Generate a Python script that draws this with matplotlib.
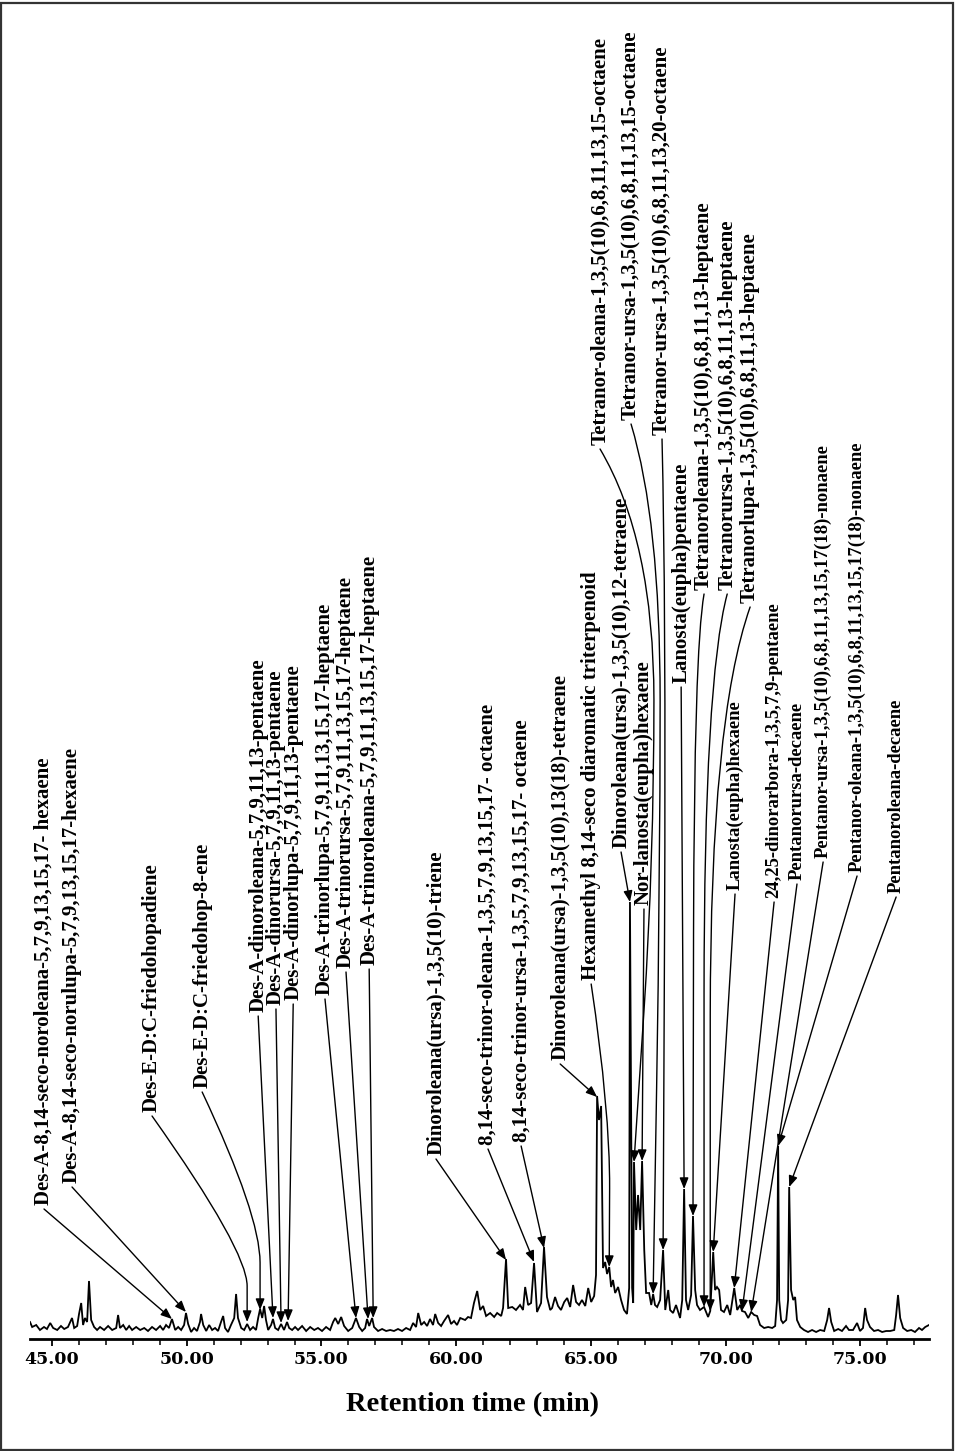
import matplotlib
matplotlib.use('Agg')
import matplotlib.pyplot as plt
import matplotlib.patches as mpatches
from matplotlib.path import Path
from matplotlib.ticker import MultipleLocator, FormatStrFormatter

# ── chromatogram trace (retention time in min, abundance in a.u.) ────────────
rt_min = [
    44.18, 44.26, 44.41, 44.55, 44.70, 44.81, 44.93, 45.04, 45.19, 45.33, 45.45, 45.59,
    45.74, 45.82, 45.93, 46.00, 46.08, 46.15, 46.22, 46.30, 46.37, 46.45, 46.56, 46.67,
    46.78, 46.93, 47.08, 47.23, 47.38, 47.45, 47.52, 47.64, 47.75, 47.86, 47.97, 48.12,
    48.27, 48.42, 48.56, 48.71, 48.86, 49.01, 49.12, 49.23, 49.34, 49.45, 49.57, 49.68,
    49.79, 49.90, 49.97, 50.05, 50.16, 50.27,
    50.38, 50.49, 50.53, 50.61, 50.72, 50.83, 50.94, 51.05, 51.16, 51.27, 51.35, 51.42,
    51.53, 51.64, 51.76, 51.83, 51.90, 52.02, 52.13, 52.24, 52.35, 52.46, 52.57, 52.65,
    52.72, 52.80, 52.87, 52.94, 53.02, 53.13, 53.20, 53.28, 53.39, 53.50, 53.61, 53.72,
    53.80, 53.91, 54.02, 54.13, 54.28, 54.43, 54.58, 54.73, 54.87, 55.02, 55.17, 55.32,
    55.43, 55.51, 55.62, 55.73, 55.84, 55.99, 56.14, 56.28, 56.40, 56.51, 56.62, 56.69,
    56.77, 56.88, 56.95, 57.10, 57.25, 57.40, 57.55, 57.69, 57.84, 57.99, 58.14, 58.29,
    58.40, 58.51, 58.59, 58.70, 58.81, 58.92, 59.03, 59.14, 59.22, 59.33, 59.44, 59.55,
    59.70, 59.81, 59.92, 60.03,
    60.15, 60.33, 60.44, 60.55, 60.66, 60.78, 60.89, 61.00, 61.11, 61.26, 61.41, 61.52,
    61.67, 61.74, 61.85, 61.93, 62.08, 62.22, 62.37, 62.48, 62.56, 62.67, 62.78, 62.89,
    63.00, 63.15, 63.26, 63.37, 63.49, 63.56, 63.67, 63.78, 63.89, 64.01, 64.12, 64.23,
    64.34, 64.45, 64.56, 64.67, 64.79, 64.90, 65.01, 65.12,
    65.19, 65.23, 65.30, 65.38, 65.45, 65.53, 65.60, 65.68, 65.75, 65.82, 65.90, 66.01,
    66.12, 66.23, 66.34, 66.42, 66.45, 66.53, 66.57, 66.60, 66.68, 66.75, 66.83, 66.90,
    66.98, 67.05, 67.16, 67.24, 67.31, 67.38, 67.46, 67.57, 67.68, 67.76, 67.87, 67.94,
    68.05, 68.16, 68.31, 68.39, 68.46, 68.53, 68.61, 68.72, 68.79, 68.87, 68.94, 69.05,
    69.20, 69.35, 69.43, 69.54, 69.61, 69.68, 69.76, 69.83, 69.94, 70.06, 70.17, 70.28,
    70.32, 70.43, 70.54, 70.61, 70.72, 70.84, 70.95, 71.06, 71.17, 71.28, 71.43, 71.58,
    71.73, 71.84, 71.91, 71.95, 71.99, 72.06, 72.13, 72.25, 72.32, 72.36, 72.43, 72.51,
    72.58, 72.65, 72.77, 72.91, 73.06, 73.21, 73.36, 73.51, 73.66, 73.77, 73.84, 73.92,
    74.03, 74.18, 74.32, 74.47, 74.58, 74.73, 74.88, 74.99, 75.10, 75.18, 75.25, 75.36,
    75.51, 75.66, 75.81, 75.96, 76.11, 76.26, 76.33, 76.40, 76.48, 76.59, 76.74, 76.89,
    77.03, 77.18, 77.29, 77.41, 77.55,
]
abundance = [
    17, 12, 14, 9, 12, 10, 16, 11, 9, 13, 10, 12,
    21, 11, 13, 25, 36, 14, 21, 17, 58, 19, 12, 9,
    12, 9, 13, 9, 11, 24, 11, 14, 9, 13, 9, 12,
    9, 11, 8, 12, 9, 13, 9, 14, 11, 20, 9, 12,
    9, 14, 26, 15, 7, 11,
    8, 17, 25, 14, 8, 14, 9, 11, 8, 17, 23, 11,
    7, 14, 21, 45, 21, 11, 9, 15, 9, 12, 9, 21,
    30, 21, 33, 19, 9, 14, 20, 11, 9, 15, 9, 17,
    11, 9, 12, 9, 13, 8, 12, 9, 11, 8, 12, 9,
    17, 21, 15, 22, 13, 8, 11, 21, 12, 8, 11, 20,
    13, 21, 12, 8, 10, 8, 9, 8, 10, 8, 11, 9,
    16, 12, 26, 14, 17, 13, 20, 14, 25, 16, 13, 18,
    24, 15, 18, 14,
    21, 19, 22, 21, 36, 48, 29, 33, 23, 26, 22, 26,
    23, 31, 80, 31, 32, 29, 34, 29, 52, 34, 36, 76,
    27, 36, 92, 42, 29, 31, 42, 33, 29, 37, 41, 32,
    54, 37, 34, 39, 33, 51, 37, 43,
    64, 243, 219, 233, 71, 77, 65, 72, 52, 59, 46, 52,
    39, 29, 25, 51, 437, 51, 36, 177, 109, 144, 109, 178,
    89, 46, 46, 34, 45, 34, 32, 39, 89, 29, 49, 29,
    26, 34, 21, 39, 150, 39, 29, 44, 123, 49, 34, 29,
    32, 22, 28, 87, 49, 52, 49, 29, 27, 34, 24, 44,
    51, 29, 34, 28, 27, 21, 27, 24, 23, 14, 11, 12,
    11, 13, 39, 193, 39, 19, 16, 19, 39, 152, 49, 39,
    42, 19, 12, 9, 7, 9, 7, 9, 8, 19, 31, 17,
    8, 10, 8, 13, 9, 9, 16, 8, 11, 31, 19, 12,
    8, 9, 7, 8, 8, 9, 24, 44, 21, 11, 8, 9,
    7, 11, 9, 12, 14,
]

# ── identified compounds and the peak each one points to ─────────────────────
compounds = [
    'Des-A-8,14-seco-noroleana-5,7,9,13,15,17- hexaene',
    'Des-A-8,14-seco-norulupa-5,7,9,13,15,17-hexaene',
    'Des-E-D:C-friedohopadiene',
    'Des-E-D:C-friedohop-8-ene',
    'Des-A-dinoroleana-5,7,9,11,13-pentaene',
    'Des-A-dinorursa-5,7,9,11,13-pentaene',
    'Des-A-dinorlupa-5,7,9,11,13-pentaene',
    'Des-A-trinorlupa-5,7,9,11,13,15,17-heptaene',
    'Des-A-trinorursa-5,7,9,11,13,15,17-heptaene',
    'Des-A-trinoroleana-5,7,9,11,13,15,17-heptaene',
    'Dinoroleana(ursa)-1,3,5(10)-triene',
    '8,14-seco-trinor-oleana-1,3,5,7,9,13,15,17- octaene',
    '8,14-seco-trinor-ursa-1,3,5,7,9,13,15,17- octaene',
    'Dinoroleana(ursa)-1,3,5(10),13(18)-tetraene',
    'Hexamethyl 8,14-seco diaromatic triterpenoid',
    'Dinoroleana(ursa)-1,3,5(10),12-tetraene',
    'Nor-lanosta(eupha)hexaene',
    'Tetranor-oleana-1,3,5(10),6,8,11,13,15-octaene',
    'Tetranor-ursa-1,3,5(10),6,8,11,13,15-octaene',
    'Tetranor-ursa-1,3,5(10),6,8,11,13,20-octaene',
    'Lanosta(eupha)pentaene',
    'Tetranoroleana-1,3,5(10),6,8,11,13-heptaene',
    'Tetranorursa-1,3,5(10),6,8,11,13-heptaene',
    'Tetranorlupa-1,3,5(10),6,8,11,13-heptaene',
    'Lanosta(eupha)hexaene',
    '24,25-dinorarbora-1,3,5,7,9-pentaene',
    'Pentanorursa-decaene',
    'Pentanor-ursa-1,3,5(10),6,8,11,13,15,17(18)-nonaene',
    'Pentanor-oleana-1,3,5(10),6,8,11,13,15,17(18)-nonaene',
    'Pentanoroleana-decaene',
]
peak_rt = [49.45, 49.97, 52.24, 52.72, 53.20, 53.50, 53.76, 56.28, 56.73, 56.92,
           61.85, 62.89, 63.26, 65.23, 65.68, 66.45, 66.90, 66.60, 67.31, 67.68,
           68.46, 68.79, 69.20, 69.43, 69.54, 70.32, 70.61, 70.95, 71.95, 72.36]
peak_int = [20, 27, 17, 29, 21, 16, 18, 21, 20, 21,
            79, 77, 91, 242, 72, 437, 178, 177, 45, 89,
            150, 123, 32, 28, 87, 51, 28, 27, 193, 152]

# ── label layout: column position, start height, size, leader bends ──────────
label_rt = [44.70, 45.74, 48.71, 50.57, 52.65, 53.31, 53.95, 55.13, 55.91, 56.77,
            59.25, 61.18, 62.41, 63.86, 65.01, 66.12, 66.97, 65.34, 66.49, 67.64,
            68.35, 69.20, 70.06, 70.91, 70.35, 71.80, 72.65, 73.62, 74.88, 76.33]
label_base = [134, 156, 227, 251, 327, 334, 339, 344, 371, 374,
              184, 194, 197, 279, 359, 491, 434, 894, 919, 904,
              656, 749, 749, 736, 449, 441, 459, 481, 467, 446]
label_size = [15] * 24 + [13.4] * 6
leader_via = {
    2: [(52.24, 89)],
    3: [(52.72, 124)],
    14: [(65.71, 229)],
    17: [(67.34, 799), (67.34, 479)],
    18: [(67.57, 819), (67.57, 459)],
    19: [(67.79, 739)],
    21: [(68.83, 689)],
    22: [(69.20, 659)],
    23: [(69.43, 619)],
}


def leader_path(points):
    # smooth polyline: rounded corners at every intermediate point
    verts, codes = [points[0]], [Path.MOVETO]
    for i in range(1, len(points) - 1):
        p, q = points[i], points[i + 1]
        verts += [p, ((p[0] + q[0]) / 2, (p[1] + q[1]) / 2)]
        codes += [Path.CURVE3, Path.CURVE3]
    verts.append(points[-1])
    codes.append(Path.LINETO)
    return Path(verts, codes)


fig = plt.figure(figsize=(9.55, 14.51), dpi=100)
ax = fig.add_axes([30 / 955, 112 / 1451, 899 / 955, 1339 / 1451])
ax.set_xlim(44.18, 77.55)
ax.set_ylim(0, 1339)

ax.plot(rt_min, abundance, color='black', lw=1.3, solid_joinstyle='miter')

for i, (name, px, py, lx, lb, fs) in enumerate(zip(compounds, peak_rt, peak_int,
                                                    label_rt, label_base, label_size)):
    ax.text(lx, lb, name, rotation=90, ha='center', va='bottom',
            family='Liberation Serif', fontweight='bold', fontsize=fs)
    pts = [(lx, lb - 4)] + leader_via.get(i, []) + [(px, py)]
    ax.add_patch(mpatches.FancyArrowPatch(
        path=leader_path(pts), transform=ax.transData,
        arrowstyle='-|>,head_length=0.55,head_width=0.22',
        mutation_scale=12, lw=1.0, color='black', shrinkA=0, shrinkB=0))

for s in ['left', 'top', 'right']:
    ax.spines[s].set_visible(False)
ax.spines['bottom'].set_linewidth(2.0)
ax.set_yticks([])
ax.xaxis.set_major_locator(MultipleLocator(5))
ax.xaxis.set_minor_locator(MultipleLocator(1))
ax.xaxis.set_major_formatter(FormatStrFormatter('%.2f'))
ax.tick_params(axis='x', which='major', length=5, width=1.3, pad=3.5)
ax.tick_params(axis='x', which='minor', length=4, width=1.1)
for t in ax.get_xticklabels():
    t.set_fontfamily('DejaVu Serif')
    t.set_fontweight('bold')
    t.set_fontsize(12.5)

fig.text(472 / 955, 1 - 1405 / 1451, 'Retention time (min)', ha='center', va='center',
         family='Liberation Serif', fontweight='bold', fontsize=20.5)

fig.add_artist(mpatches.Rectangle((0.0015, 0.001), 0.996, 0.997, transform=fig.transFigure,
                                  fill=False, lw=1.6, ec='#333333'))

fig.savefig('out.png', dpi=100)
